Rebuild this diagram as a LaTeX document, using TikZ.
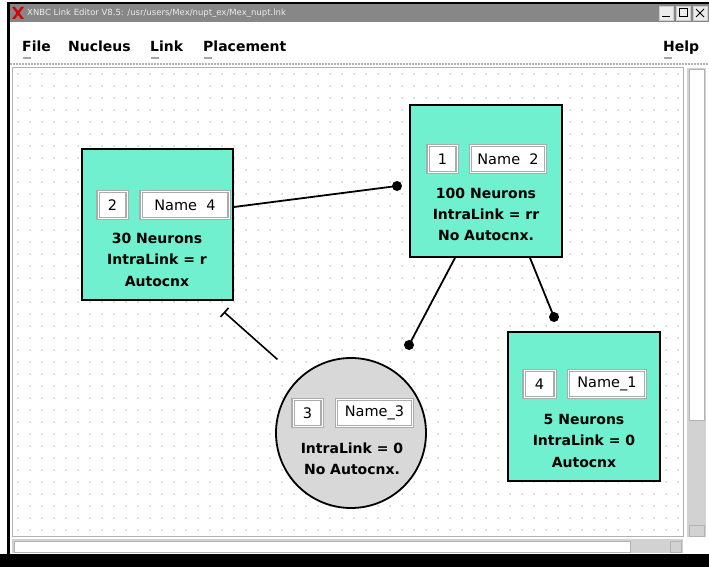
\documentclass[tikz,border=0pt]{standalone}
\usepackage{fontspec}
\setmainfont{DejaVu Sans}
\usetikzlibrary{arrows.meta,calc}
\definecolor{aqua}{RGB}{112,240,206}
\definecolor{cgray}{RGB}{216,216,216}
\definecolor{tbar}{RGB}{135,135,135}
\definecolor{griddot}{RGB}{170,170,170}
\begin{document}
\begin{tikzpicture}[x=1pt,y=-1pt,
  nucleus/.style={draw=black,line width=1.8pt,fill=aqua,inner sep=0pt},
  nuccirc/.style={circle,draw=black,line width=1.8pt,fill=cgray,inner sep=0pt,minimum size=150pt},
  idbox/.style={draw=gray!65,line width=1.2pt,double=white,double distance=0.8pt,fill=white,inner sep=0pt,minimum height=27pt,font=\fontsize{14.5}{16}\selectfont},
  info/.style={inner sep=0pt,font=\fontsize{14}{16}\bfseries\selectfont},
  menu/.style={anchor=base west,inner sep=0pt,font=\fontsize{14}{16}\bfseries\selectfont},
  link/.style={line width=1.8pt,black},
  dotend/.style={fill=black},
  ]
\useasboundingbox (0,0) rectangle (709,567);
% window background
\fill[white] (0,0) rectangle (709,567);
\fill[black] (7,2) rectangle (10,556);
\fill[black] (7,2) rectangle (709,4);
\fill[black] (0,554) rectangle (709,567);
% title bar
\fill[tbar] (10,4) rectangle (655,22);
\fill[red!85!black] (12,7) -- (15,7) -- (24,19) -- (21,19) -- cycle;
\fill[red!85!black] (21,7) -- (24,7) -- (15,19) -- (12,19) -- cycle;
\node[anchor=west,inner sep=0pt,text=white!85!gray,font=\fontsize{8.5}{10}\selectfont] (title) at (27,13) {XNBC Link Editor V8.5: /usr/users/Mex/nupt\_ex/Mex\_nupt.lnk};
\fill[tbar] (655,4) rectangle (709,22);
\draw[gray!40,fill=gray!15] (659,6) rectangle (673,20);
\draw[black,line width=0.6pt] (662,16) -- (670,16);
\draw[gray!40,fill=gray!15] (676,6) rectangle (690,20);
\draw[black,line width=1pt] (679,9) rectangle (687,17);
\draw[gray!40,fill=gray!15] (693,6) rectangle (707,20);
\draw[black,line width=1pt] (696,9) -- (704,17) (704,9) -- (696,17);
% menu bar
\node[menu] (mfile) at (22,52) {File};
\node[menu] (mnuc) at (68,52) {Nucleus};
\node[menu] (mlink) at (150,52) {Link};
\node[menu] (mplace) at (203,52) {Placement};
\node[menu] (mhelp) at (663,52) {Help};
\foreach \a in {mfile,mlink,mplace,mhelp}{
  \draw[gray!70,line width=1.2pt] ($(\a.base west)+(1,6)$) -- ++(8,0);
}
\draw[gray!60,line width=1.5pt,dash pattern=on 2pt off 1pt] (10,64) -- (709,64);
% canvas
\draw[gray!60,line width=1pt] (12,68) rectangle (683,536);
\foreach \x in {18,30,...,680}{
  \foreach \y in {74,86,...,532}{
    \fill[griddot] (\x,\y) circle (0.75);
  }
}
% vertical scrollbar
\fill[gray!35] (687,68) rectangle (706,537);
\draw[gray!60,line width=1pt,fill=white] (689,70) rectangle (704,420);
\draw[gray!60] (689,525) rectangle (704,536);
% horizontal scrollbar
\fill[gray!35] (12,539) rectangle (683,553);
\draw[gray!60,line width=1pt,fill=white] (14,541) rectangle (630,552);
\draw[gray!60] (670,541) rectangle (681,552);

% nucleus 4 (left)
\node[nucleus,minimum width=151pt,minimum height=151pt] (n4) at (157.5,224.5) {};
\node[idbox,minimum width=29pt] (n4id) at (112.5,205) {2};
\node[idbox,minimum width=88pt] (n4nm) at (185,205) {Name\ \ 4};
\node[info] (n4a) at (157,238) {30 Neurons};
\node[info] (n4b) at (157,259) {IntraLink = r};
\node[info] (n4c) at (157,281) {Autocnx};

% nucleus 2 (top)
\node[nucleus,minimum width=152pt,minimum height=152pt] (n2) at (486,181) {};
\node[idbox,minimum width=29pt] (n2id) at (442.5,159) {1};
\node[idbox,minimum width=75pt] (n2nm) at (508,159) {Name\ \ 2};
\node[info] (n2a) at (486,193) {100 Neurons};
\node[info] (n2b) at (486,214) {IntraLink = rr};
\node[info] (n2c) at (486,235) {No Autocnx.};

% nucleus 1 (right)
\node[nucleus,minimum width=152pt,minimum height=149pt] (n1) at (584,406.5) {};
\node[idbox,minimum width=31pt] (n1id) at (539.5,384) {4};
\node[idbox,minimum width=77pt] (n1nm) at (607,384) {Name\_1};
\node[info] (n1a) at (584,419) {5 Neurons};
\node[info] (n1b) at (584,440) {IntraLink = 0};
\node[info] (n1c) at (584,462) {Autocnx};

% nucleus 3 (circle)
\node[nuccirc] (n3) at (351,433) {};
\node[idbox,minimum width=29pt] (n3id) at (307.5,413) {3};
\node[idbox,minimum width=76pt] (n3nm) at (374.5,413) {Name\_3};
\node[info] (n3a) at (352,448) {IntraLink = 0};
\node[info] (n3b) at (352,469) {No Autocnx.};

% connectors
\coordinate (d1) at (397,186);
\coordinate (d2) at (409,345);
\coordinate (d3) at (554,317);
\draw[link] ([yshift=17.5pt]n4.east) -- (d1);
\fill[dotend] (d1) circle (5);
\draw[link] ([xshift=-31pt]n2.south) -- (d2);
\fill[dotend] (d2) circle (5);
\draw[link] ([xshift=44pt]n2.south) -- (d3);
\fill[dotend] (d3) circle (5);
\coordinate (t1) at ($(n3.center)!1.37!(n3.135)$);
\coordinate (t2) at ($(n4.south east)+(-10,11)$);
\draw[link,line width=1.6pt,-{Bar[width=12pt,line width=1.6pt]}] (t1) -- (t2);
\end{tikzpicture}
\end{document}
